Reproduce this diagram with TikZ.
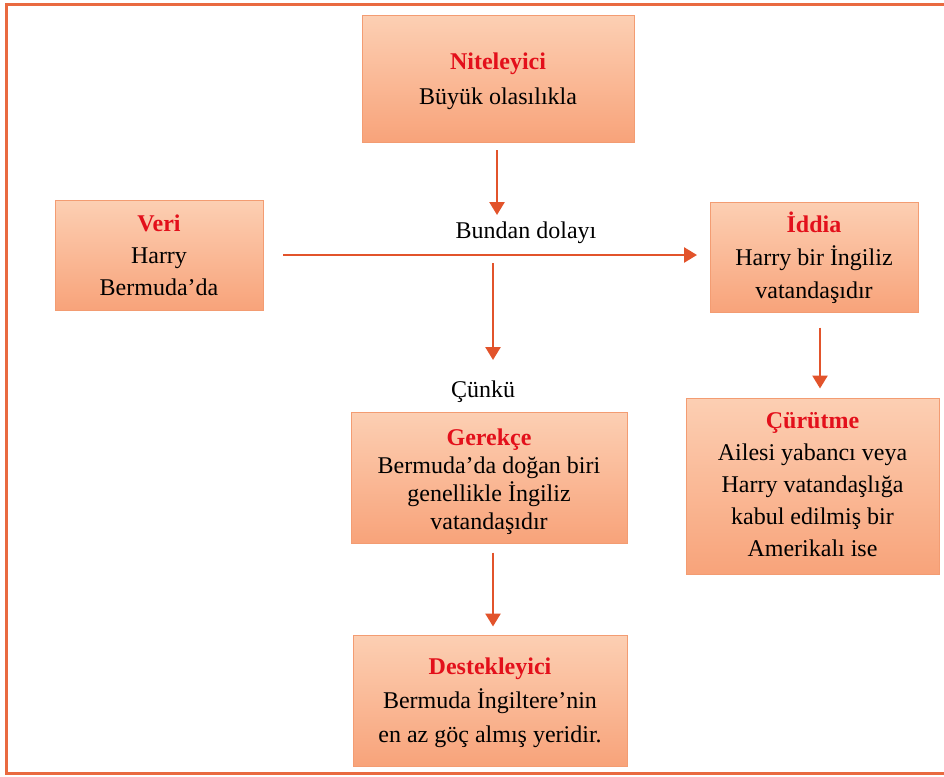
\documentclass[tikz,border=0pt]{standalone}
\usepackage{fontspec}
\setmainfont{Liberation Serif}
\usetikzlibrary{arrows.meta}
\definecolor{boxtop}{HTML}{FCCFB3}
\definecolor{boxbot}{HTML}{F8A37A}
\definecolor{boxline}{HTML}{F39C72}
\definecolor{arr}{HTML}{E2532B}
\definecolor{framec}{HTML}{E96A40}
\definecolor{ttl}{HTML}{E3101B}
\newcommand{\ttlx}[1]{{\bfseries\color{ttl}#1}}
\begin{document}
\begin{tikzpicture}[x=1pt,y=-1pt,
  box/.style={draw=boxline, line width=1pt, top color=boxtop, bottom color=boxbot, inner sep=0pt},
  txt/.style={align=center, font=\fontsize{24}{25}\selectfont, inner sep=0pt},
  arrow/.style={draw=arr, line width=2.6pt, -{Triangle[width=15pt,length=13pt]}},
  lbl/.style={font=\fontsize{24}{25}\selectfont, inner sep=0pt, anchor=base}]
\useasboundingbox (0,0) rectangle (944,776);
\fill[white] (0,0) rectangle (944,776);
% frame
\draw[framec, line width=3pt] (944,4.5) -- (6.5,4.5) -- (6.5,773.5) -- (944,773.5);
% boxes
\node[box, minimum width=272pt, minimum height=126pt] (nit) at (498,79) {};
\node[box, minimum width=208pt, minimum height=110pt] (veri) at (159,255) {};
\node[box, minimum width=208pt, minimum height=110pt] (idd) at (814,257) {};
\node[box, minimum width=276pt, minimum height=131pt] (ger) at (489,477.5) {};
\node[box, minimum width=253pt, minimum height=176pt] (cur) at (812.5,486) {};
\node[box, minimum width=274pt, minimum height=131pt] (des) at (490,700.5) {};
% texts
\node[txt] (nitt) at ([yshift=-2pt]nit.center) {\ttlx{Niteleyici}\\[10pt]Büyük olasılıkla};
\node[txt] (verit) at (veri.center) {\ttlx{Veri}\\[7pt]Harry\\[7pt]Bermuda’da};
\node[txt] (iddt) at ([yshift=-1pt]idd.center) {\ttlx{İddia}\\[8pt]Harry bir İngiliz\\[8pt]vatandaşıdır};
\node[txt] (gert) at ([yshift=-4pt]ger.center) {\ttlx{Gerekçe}\\[3pt]Bermuda’da doğan biri\\[3pt]genellikle İngiliz\\[3pt]vatandaşıdır};
\node[txt] (curt) at ([yshift=1pt]cur.center) {\ttlx{Çürütme}\\[7pt]Ailesi yabancı veya\\[7pt]Harry vatandaşlığa\\[7pt]kabul edilmiş bir\\[7pt]Amerikalı ise};
\node[txt] (dest) at ([yshift=-2pt]des.center) {\ttlx{Destekleyici}\\[9pt]Bermuda İngiltere’nin\\[9pt]en az göç almış yeridir.};
% labels
\node[lbl] (bd) at (526,238) {Bundan dolayı};
\node[lbl] (ck) at (483,397) {Çünkü};
% connector points
\coordinate (q1) at (497,150);
\coordinate (q2) at (497,215);
\coordinate (h1) at (283,255);
\coordinate (h2) at (697,255);
\coordinate (v1) at (493,263);
\coordinate (v2) at (493,360);
% arrows
\draw[arrow] (nit.south |- q1) ++(-1,0) -- (q2);
\draw[arrow] (h1) -- (h2);
\draw[arrow] (v1) -- (v2);
\draw[arrow] ([xshift=6pt,yshift=-15pt]idd.south) -- ([xshift=7.5pt,yshift=9pt]cur.north);
\draw[arrow] ([xshift=4pt,yshift=-9pt]ger.south) -- ([xshift=3pt,yshift=8pt]des.north);
\end{tikzpicture}
\end{document}
